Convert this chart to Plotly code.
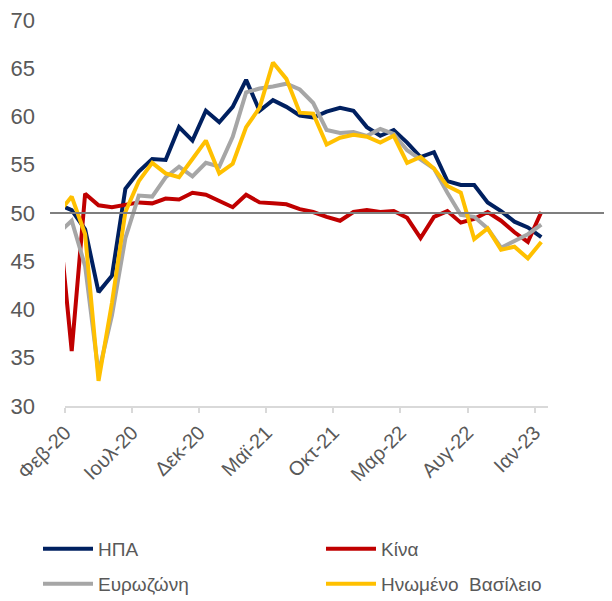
import plotly.graph_objects as go

# Monthly labels, Jan-20 .. Jan-23 (Jan-20 only feeds the clipped start of the lines)
months = ["Ιαν-20", "Φεβ-20", "Μαρ-20", "Απρ-20", "Μαϊ-20", "Ιουν-20", "Ιουλ-20", "Αυγ-20",
          "Σεπ-20", "Οκτ-20", "Νοε-20", "Δεκ-20", "Ιαν-21", "Φεβ-21", "Μαρ-21", "Απρ-21",
          "Μαϊ-21", "Ιουν-21", "Ιουλ-21", "Αυγ-21", "Σεπ-21", "Οκτ-21", "Νοε-21", "Δεκ-21",
          "Ιαν-22", "Φεβ-22", "Μαρ-22", "Απρ-22", "Μαϊ-22", "Ιουν-22", "Ιουλ-22", "Αυγ-22",
          "Σεπ-22", "Οκτ-22", "Νοε-22", "Δεκ-22", "Ιαν-23"]

usa = [50.9, 50.3, 48.3, 41.8, 43.5, 52.5, 54.3, 55.6, 55.5, 58.9, 57.5, 60.6, 59.4,
       61.0, 63.8, 60.6, 61.7, 61.0, 60.1, 59.9, 60.5, 60.9, 60.6, 58.9, 58.0, 58.6,
       57.3, 55.8, 56.3, 53.3, 52.9, 52.9, 51.1, 50.2, 49.1, 48.5, 47.5]
china = [50.0, 35.7, 52.0, 50.8, 50.6, 50.9, 51.1, 51.0, 51.5, 51.4, 52.1, 51.9, 51.3,
         50.6, 51.9, 51.1, 51.0, 50.9, 50.4, 50.1, 49.6, 49.2, 50.1, 50.3, 50.1, 50.2,
         49.5, 47.4, 49.6, 50.2, 49.0, 49.4, 50.1, 49.2, 48.0, 47.0, 50.1]
eurozone = [47.9, 49.2, 44.5, 33.4, 39.4, 47.4, 51.8, 51.7, 53.7, 54.8, 53.8, 55.2, 54.8,
            57.9, 62.5, 62.9, 63.1, 63.4, 62.8, 61.4, 58.6, 58.3, 58.4, 58.0, 58.7, 58.2,
            56.5, 55.5, 54.6, 52.1, 49.8, 49.6, 48.4, 46.4, 47.1, 47.8, 48.8]
uk = [50.0, 51.7, 47.8, 32.6, 40.7, 50.1, 53.3, 55.2, 54.1, 53.7, 55.6, 57.5, 54.1,
      55.1, 58.9, 60.9, 65.6, 63.9, 60.4, 60.3, 57.1, 57.8, 58.1, 57.9, 57.3, 58.0,
      55.2, 55.8, 54.6, 52.8, 52.1, 47.3, 48.4, 46.2, 46.5, 45.3, 47.0]

series_names = ["ΗΠΑ", "Κίνα", "Ευρωζώνη", "Ηνωμένο\u00a0\u00a0Βασίλειο"]
series_colors = ["#002060", "#C00000", "#A6A6A6", "#FFC000"]
series_legend = ["legend", "legend2", "legend3", "legend4"]
y_ticks = [30, 35, 40, 45, 50, 55, 60, 65, 70]
threshold = 50

x_idx = list(range(len(months)))
label_idx = list(range(1, len(months), 5))  # Φεβ-20, Ιουλ-20, ... Ιαν-23

fig = go.Figure()
for name, vals, col, lg in zip(series_names, [usa, china, eurozone, uk],
                               series_colors, series_legend):
    fig.add_trace(go.Scatter(x=x_idx, y=vals, mode="lines", name=name, legend=lg,
                             line=dict(color=col, width=4)))

fig.add_shape(type="line", xref="paper", yref="y", x0=-0.031, x1=1.118,
              y0=threshold, y1=threshold, line=dict(color="#7F7F7F", width=2), layer="above")

# figure is drawn inside the page's default 8px body margin
W, H = 604, 593
L, T, PW, PH = 57, 12, 483, 386
B = H - T - PH
font_family = "Liberation Sans, Arial, sans-serif"
legend_common = dict(orientation="v", xanchor="left", yanchor="middle", itemwidth=50,
                     font=dict(size=19, color="#595959"), bgcolor="rgba(0,0,0,0)")


def lx(px):
    return (px - L) / PW


def ly(py):
    return -(py - (T + PH)) / PH


fig.update_layout(
    width=W, height=H,
    margin=dict(l=L, r=W - L - PW, t=T, b=B, autoexpand=False),
    plot_bgcolor="white", paper_bgcolor="white",
    font=dict(family=font_family, color="#595959", size=20),
    xaxis=dict(range=[0.5, len(months) - 0.5], showgrid=False, zeroline=False,
               showline=True, linecolor="#D9D9D9", linewidth=2,
               ticks="outside", ticklen=5, tickwidth=2, tickcolor="#D9D9D9",
               tickvals=[i - 0.5 for i in label_idx],
               ticktext=[months[i] for i in label_idx],
               tickangle=-45, tickfont=dict(size=20, color="#595959")),
    yaxis=dict(range=[30, 70], showgrid=False, zeroline=False, showline=False,
               tickvals=y_ticks, ticks="", ticklabelstandoff=29,
               ticklabeloverflow="allow",
               tickfont=dict(size=22, color="#595959")),
    showlegend=True,
    legend=dict(x=lx(30), y=ly(541), **legend_common),
    legend2=dict(x=lx(313), y=ly(541), **legend_common),
    legend3=dict(x=lx(30), y=ly(576), **legend_common),
    legend4=dict(x=lx(313), y=ly(576), **legend_common),
)

fig.write_html("out.html")
